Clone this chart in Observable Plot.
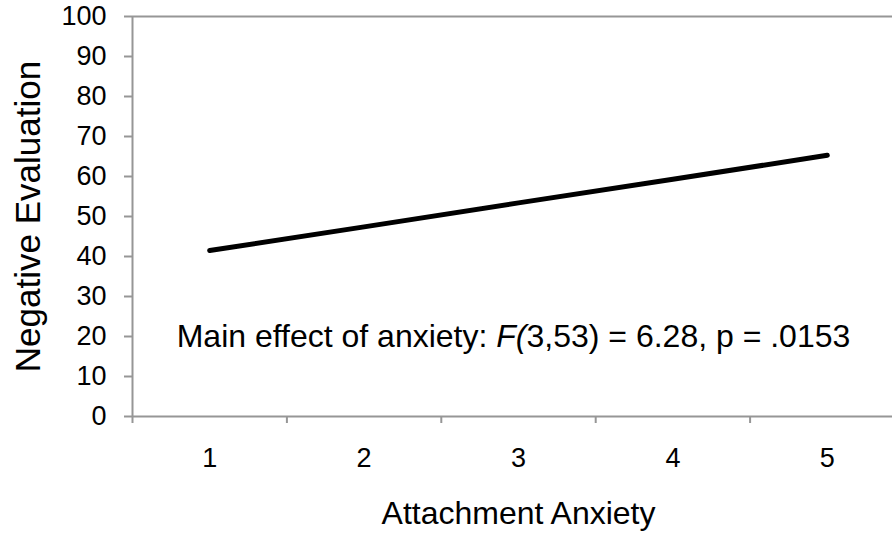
<!DOCTYPE html>
<html>
<head>
<meta charset="utf-8">
<script src="https://cdn.jsdelivr.net/npm/d3@7"></script>
<script src="https://cdn.jsdelivr.net/npm/@observablehq/plot@0.6"></script>
<style>
  html, body { margin: 0; padding: 0; background: #fff; }
  #chart svg { display: block; }
</style>
</head>
<body>
<div id="chart"></div>
<script>
// Data
const anxietyLevels = [1, 2, 3, 4, 5];
const negativeEvaluation = [41.5, 47.4, 53.4, 59.3, 65.3];
const yTicks = [0, 10, 20, 30, 40, 50, 60, 70, 80, 90, 100];
const xTickLabels = ["1", "2", "3", "4", "5"];
const xBoundaries = [0.5, 1.5, 2.5, 3.5, 4.5];
const xLabel = "Attachment Anxiety";
const yLabel = "Negative Evaluation";
const annotationText = "Main effect of anxiety: F(3,53) = 6.28, p = .0153";
const annotationX = 3;
const annotationY = 20;

const data = anxietyLevels.map((x, i) => ({x, y: negativeEvaluation[i]}));

const axisColor = "#969696";
const font = "'Liberation Sans', Arial, sans-serif";

const chart = Plot.plot({
  width: 892,
  height: 533,
  marginLeft: 132,
  marginRight: 0,
  marginTop: 16,
  marginBottom: 117,
  style: {fontFamily: font, color: "#000", background: "#fff"},
  x: {domain: [0.5, 5.5], range: [132, 904]},
  y: {domain: [0, 100]},
  marks: [
    Plot.ruleY([100], {stroke: axisColor, strokeWidth: 2}),
    Plot.ruleY([0], {stroke: axisColor, strokeWidth: 2}),
    Plot.ruleX([0.5], {y1: 0, y2: 100, stroke: axisColor, strokeWidth: 2}),
    Plot.axisY({ticks: yTicks, tickSize: 8, tickPadding: 18, fontSize: 27, label: null, stroke: axisColor, strokeWidth: 2, strokeOpacity: 1, fill: "#000"}),
    Plot.axisX({ticks: xBoundaries, tickSize: 7, text: null, label: null, stroke: axisColor, strokeWidth: 2, strokeOpacity: 1}),
    Plot.axisX({ticks: anxietyLevels, tickSize: 0, tickPadding: 31, fontSize: 27, label: null, tickFormat: (d, i) => xTickLabels[i], fill: "#000"}),
    Plot.line(data, {x: "x", y: "y", stroke: "#000", strokeWidth: 5, strokeLinecap: "round"}),
    Plot.text([annotationText], {x: () => annotationX, y: () => annotationY, dx: -5, fontSize: 32, fill: "#000", textAnchor: "middle", lineAnchor: "middle"}),
    Plot.text([xLabel], {frameAnchor: "bottom", dx: 6, dy: 97, fontSize: 32, fill: "#000", textAnchor: "middle", lineAnchor: "middle"}),
    Plot.text([yLabel], {frameAnchor: "left", dx: -104, rotate: -90, fontSize: 35, fill: "#000", textAnchor: "middle", lineAnchor: "middle"})
  ]
});

document.getElementById("chart").appendChild(chart);

// Italicize "F(" in the annotation
d3.select(chart).selectAll("text").each(function() {
  if (this.textContent === annotationText) {
    const t = d3.select(this);
    const idx = annotationText.indexOf("F(");
    t.text(null);
    t.append("tspan").text(annotationText.slice(0, idx));
    t.append("tspan").attr("font-style", "italic").text("F(");
    t.append("tspan").text(annotationText.slice(idx + 2));
  }
});
</script>
</body>
</html>
